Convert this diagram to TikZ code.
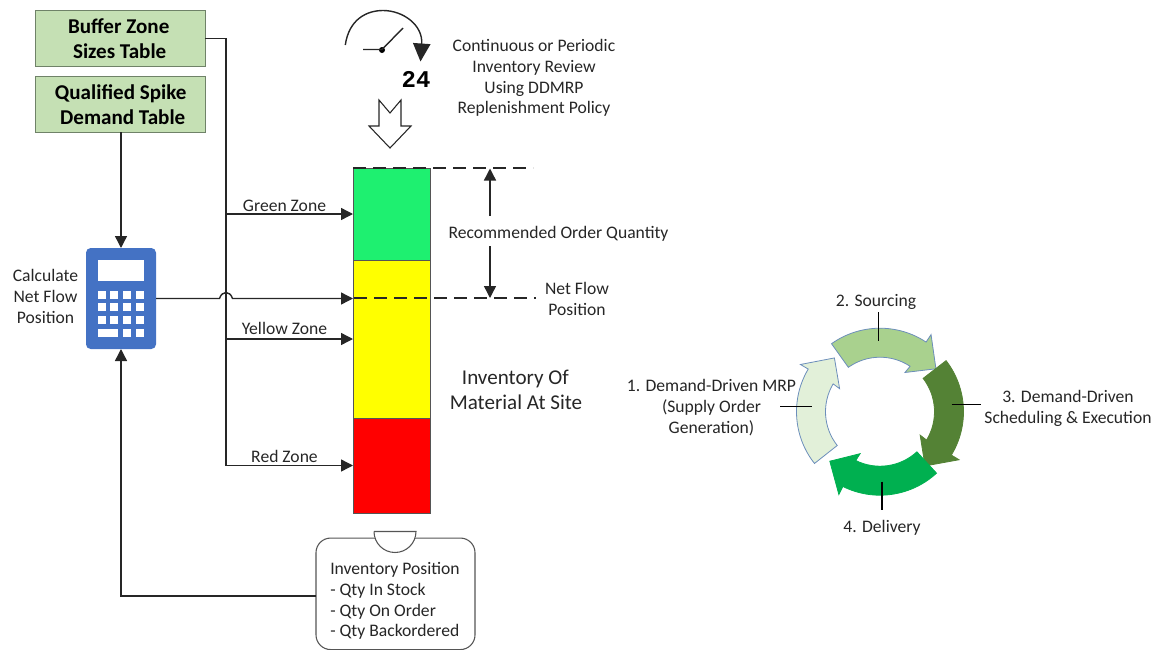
\documentclass[tikz,border=0pt]{standalone}
\usepackage{fontspec}
\setmainfont{Carlito}
\newfontfamily\clockfont{Liberation Mono}
\usetikzlibrary{arrows.meta}
\definecolor{tablefill}{HTML}{C5E0B4}
\definecolor{tableline}{HTML}{6F8268}
\definecolor{calcblue}{HTML}{4472C4}
\definecolor{barline}{HTML}{555555}
\definecolor{textgray}{HTML}{262626}
\definecolor{ringone}{HTML}{E2F0D9}
\definecolor{ringtwo}{HTML}{A9D18E}
\definecolor{ringthree}{HTML}{548235}
\definecolor{ringfour}{HTML}{00B050}
\definecolor{ringedge}{HTML}{6C8EBB}
\definecolor{zonegreen}{HTML}{1EF070}
\definecolor{zoneyellow}{HTML}{FFFF00}
\definecolor{zonered}{HTML}{FF0000}
\tikzset{
  sized/.style 2 args={minimum width=#1*0.75pt,minimum height=#2*0.75pt,inner sep=0pt,outer sep=0pt},
  tablebox/.style={draw=tableline,line width=0.8pt,fill=tablefill,align=center,text=black,font=\fontsize{15.8}{18.8}\selectfont\bfseries},
  barseg/.style={draw=barline,line width=0.6pt},
  lbl/.style={align=center,inner sep=0pt,text=textgray,font=\fontsize{13.2}{15.6}\selectfont},
  conn/.style={draw=black!85,line width=1.05pt},
  arr/.style={conn,-{Triangle[length=9pt,width=9pt]}},
  dashline/.style={draw=black!85,line width=1.05pt,dash pattern=on 9.5pt off 5.5pt},
  tick/.style={draw=black,line width=1.05pt},
}
\newcommand{\ringarrow}[3]{% start angle, fill, draw
  \path[fill=#2,draw=#3,line width=0.6pt,line join=miter]
    ({#1}:83.5) arc[start angle={#1},end angle={#1+69},radius=83.5]
    -- ({#1+69}:92.5) -- ({#1+88}:70.5) -- ({#1+68}:46.5) -- ({#1+69}:54.5)
    arc[start angle={#1+69},end angle={#1},radius=54.5] -- cycle;
}
\begin{document}
\begin{tikzpicture}[x=0.75pt,y=-0.75pt]
\useasboundingbox (0,0) rectangle (1161,650);

% ---- tables
\node[tablebox,sized={169.5}{56}] (buf) at (120.7,38.7) {Buffer Zone\kern3pt\\Sizes Table\kern1.5pt};
\node[tablebox,sized={169.5}{55.5}] (spike) at (120.7,104.3) {Qualified Spike\\\kern3pt Demand Table};

% ---- calculator
\node[sized={70}{101},fill=calcblue,rounded corners=3.5pt] (calc) at (121,298.5) {};
\fill[white] (97.7,260.3) rectangle (144,281);
\foreach \yy in {290.5,303.3,315.7} \foreach \xx in {97.7,110.3,123,135.7}
  \fill[white] (\xx,\yy) rectangle ++(8,8);
\fill[white] (97.7,328.5) rectangle (118.3,336.7);
\fill[white] (123,328.5) rectangle ++(8,8.2);
\fill[white] (135.7,328.5) rectangle ++(8,8.2);
\node[lbl] (calclabel) at (45.5,296.5) {Calculate\\Net Flow\\Position};

% ---- inventory bar
\node[barseg,sized={77}{92},fill=zonegreen] (gz) at (391.5,214) {};
\node[barseg,sized={77}{158},fill=zoneyellow] (yz) at (391.5,339) {};
\node[barseg,sized={77}{95},fill=zonered] (rz) at (391.5,465.5) {};

% ---- inventory position
\node[sized={159}{111.5},draw=barline,line width=0.8pt,rounded corners=11pt,fill=white] (inv) at (395.5,593.8) {};
\fill[white] (374,531.5) rectangle (416,538);
\draw[draw=barline,line width=0.8pt,fill=white] (374,531.5) -- (416,531.5) arc[start angle=0,end angle=180,radius=21] ;
\node[lbl,align=left,anchor=west] (invtext) at (330,601) {Inventory Position\\- Qty In Stock\\- Qty On Order\\- Qty Backordered};

% ---- connectors
\coordinate (trunk) at (226,38.7);
\coordinate (j1) at (219.5,298.5);
\coordinate (j2) at (232.5,298.5);
\draw[conn] (buf.east) -- (trunk) -- (226,465.5);
\draw[arr] (226,214) -- (gz.west);
\draw[arr] (226,339) -- (yz.west);
\draw[arr] (226,465.5) -- (rz.west);
\draw[arr] (calc.east) -- (j1) .. controls (222,290.5) and (230,290.5) .. (j2) -- (yz.west |- calc.east);
\draw[arr] (spike.south -| calc.north) -- (calc.north);
\draw[arr] (inv.west |- 0,596) -- (121,596) -- (calc.south);

\node[lbl] (gl) at (284.5,206) {Green Zone};
\node[lbl] (yl) at (284.5,328.5) {Yellow Zone};
\node[lbl] (rl) at (284.5,456) {Red Zone};

% ---- dashed levels and quantity arrows
\coordinate (d1a) at (353,168);
\coordinate (d1b) at (533,168);
\coordinate (d2a) at (354,298);
\coordinate (d2b) at (536,298);
\draw[dashline] (d1a) -- (d1b);
\draw[dashline] (d2a) -- (d2b);
\coordinate (q1) at (490,216);
\coordinate (q2) at (490,168.5);
\coordinate (q3) at (490,246);
\coordinate (q4) at (490,298);
\draw[arr] (q1) -- (q2);
\draw[arr] (q3) -- (q4);
\node[lbl] (qty) at (558.5,233.5) {Recommended Order Quantity};
\node[lbl] (nfp) at (577,299) {Net Flow\\Position};
\node[lbl,font=\fontsize{15.8}{18.8}\selectfont] (site) at (516,389.5) {Inventory Of\kern1pt\\Material At Site};

% ---- clock and review
\coordinate (c1) at (345.3,45);
\coordinate (c2) at (420.5,61.5);
\draw[conn,-{Triangle[length=13.5pt,width=13pt]}] (c1) .. controls (349,19) and (367,10.5) .. (383,10.5) .. controls (403,10.5) and (423,25) .. (c2);
\fill[black] (382,50) circle (3);
\coordinate (n1) at (363,49.5);
\coordinate (n2) at (403,28);
\draw[conn] (n1) -- (382,49.5) -- (n2);
\node[inner sep=0pt,font=\fontsize{18}{20}\selectfont\clockfont\bfseries] (tf) at (416,79) {24};
\node[lbl] (review) at (534,78) {Continuous or Periodic\\Inventory Review\\Using DDMRP\\Replenishment Policy};
\draw[draw=black!85,line width=0.8pt,fill=white] (379,100) -- (390,113) -- (401,100) -- (401,126) -- (411,126) -- (390,148) -- (369,126) -- (379,126) -- cycle;

% ---- ring
\begin{scope}[shift={(880,411.7)}]
\ringarrow{141.7}{ringone}{ringedge}
\ringarrow{234.5}{ringtwo}{ringedge}
\ringarrow{322.3}{ringthree}{ringthree}
\ringarrow{47.4}{ringfour}{ringfour}
\end{scope}
\coordinate (t1a) at (878.5,312); \coordinate (t1b) at (878.5,340.5);
\coordinate (t2a) at (951.7,404.5); \coordinate (t2b) at (980.7,404.5);
\coordinate (t3a) at (882,481.7); \coordinate (t3b) at (882,510);
\coordinate (t4a) at (780,406.3); \coordinate (t4b) at (812,406.3);
\draw[tick] (t1a) -- (t1b);
\draw[tick] (t2a) -- (t2b);
\draw[tick] (t3a) -- (t3b);
\draw[tick] (t4a) -- (t4b);
\node[lbl] (r1) at (711.5,407.5) {1. Demand-Driven MRP\\(Supply Order\\Generation)};
\node[lbl] (r2) at (876,301.5) {2. Sourcing};
\node[lbl] (r3) at (1068,408) {3. Demand-Driven\\Scheduling \& Execution};
\node[lbl] (r4) at (882,527.5) {4. Delivery};
\end{tikzpicture}
\end{document}
